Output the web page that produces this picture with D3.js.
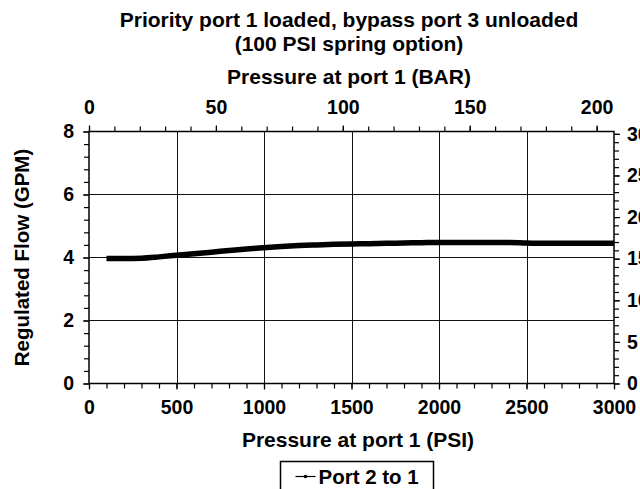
<!DOCTYPE html>
<html>
<head>
<meta charset="utf-8">
<script src="https://cdn.jsdelivr.net/npm/d3@7"></script>
<style>
  body { margin: 0; background: #fff; }
  svg text { font-family: "Liberation Sans", Arial, sans-serif; font-weight: bold; fill: #000; }
</style>
</head>
<body>
<div id="chart"></div>
<script>
// chart data
var psi = [100, 200, 300, 400, 500, 600, 700, 800, 900, 1000, 1100, 1200, 1300, 1400, 1500,
           1600, 1700, 1800, 1900, 2000, 2100, 2200, 2300, 2400, 2500, 2600, 2700, 2800, 2900, 3000];
var gpm = [3.97, 3.97, 3.98, 4.02, 4.07, 4.12, 4.17, 4.22, 4.27, 4.31, 4.35, 4.38, 4.40, 4.42, 4.43,
           4.44, 4.45, 4.46, 4.47, 4.48, 4.48, 4.48, 4.48, 4.48, 4.46, 4.45, 4.45, 4.45, 4.45, 4.45];
var psiTicks = [0, 500, 1000, 1500, 2000, 2500, 3000];
var barTicks = [0, 50, 100, 150, 200];
var gpmTicks = [0, 2, 4, 6, 8];
var lpmTicks = [0, 5, 10, 15, 20, 25, 30];
var seriesName = "Port 2 to 1";

var svgWidth = 640;
var svgHeight = 489;
var margin = {top: 131.5, right: 26, bottom: 105.5, left: 89};
var width = svgWidth - margin.left - margin.right;
var height = svgHeight - margin.top - margin.bottom;

var svg = d3.select("#chart").append("svg")
    .attr("width", svgWidth).attr("height", svgHeight);

var chart = svg.append("g")
    .attr("transform", `translate(${margin.left},${margin.top})`);

var xScale = d3.scaleLinear().domain([0, 3000]).range([0, width]);
var barScale = d3.scaleLinear().domain([0, 3000 / 14.5038]).range([0, width]);
var yScale = d3.scaleLinear().domain([0, 8]).range([height, 0]);
var lpmScale = d3.scaleLinear().domain([0, 8 * 3.78541]).range([height, 0]);

// grid lines
chart.append("g").selectAll("line")
    .data(psiTicks.slice(1, -1))
    .enter().append("line")
    .attr("x1", function (d) { return Math.round(xScale(d)) + 0.5; })
    .attr("x2", function (d) { return Math.round(xScale(d)) + 0.5; })
    .attr("y1", 0).attr("y2", height)
    .attr("stroke", "#111").attr("stroke-width", 1);
chart.append("g").selectAll("line")
    .data(gpmTicks.slice(1, -1))
    .enter().append("line")
    .attr("y1", function (d) { return yScale(d); })
    .attr("y2", function (d) { return yScale(d); })
    .attr("x1", 0).attr("x2", width)
    .attr("stroke", "#111").attr("stroke-width", 1);

// plot frame
chart.append("rect")
    .attr("width", width).attr("height", height)
    .attr("fill", "none").attr("stroke", "#000").attr("stroke-width", 1.5);

function styleAxis(g) {
    g.select(".domain").remove();
    g.selectAll("line").attr("stroke", "#000").attr("stroke-width", 1.2);
    g.selectAll("text").style("font-size", "19.5px");
}

// minor ticks
chart.append("g").attr("transform", `translate(0,${height})`)
    .call(d3.axisBottom(xScale).tickValues(d3.range(0, 3001, 100)).tickSize(5).tickFormat(""))
    .call(styleAxis);
chart.append("g")
    .call(d3.axisTop(barScale).tickValues(d3.range(0, 201, 10)).tickSize(5).tickFormat(""))
    .call(styleAxis);
chart.append("g")
    .call(d3.axisLeft(yScale).tickValues(d3.range(0, 8.01, 0.4)).tickSize(5).tickFormat(""))
    .call(styleAxis);
chart.append("g").attr("transform", `translate(${width},0)`)
    .call(d3.axisRight(lpmScale).tickValues(d3.range(0, 31, 1)).tickSize(5).tickFormat(""))
    .call(styleAxis);

// major ticks with labels
chart.append("g").attr("transform", `translate(0,${height})`)
    .call(d3.axisBottom(xScale).tickValues(psiTicks).tickSize(6).tickPadding(11).tickFormat(d3.format("d")))
    .call(styleAxis);
chart.append("g")
    .call(d3.axisTop(barScale).tickValues(barTicks).tickSize(6).tickPadding(12).tickFormat(d3.format("d")))
    .call(styleAxis);
chart.append("g")
    .call(d3.axisLeft(yScale).tickValues(gpmTicks).tickSize(6).tickPadding(9).tickFormat(d3.format("d")))
    .call(styleAxis);
chart.append("g").attr("transform", `translate(${width},0)`)
    .call(d3.axisRight(lpmScale).tickValues(lpmTicks).tickSize(6).tickPadding(7).tickFormat(d3.format("d")))
    .call(styleAxis);

// data line
var line = d3.line()
    .x(function (d, i) { return xScale(psi[i]); })
    .y(function (d) { return yScale(d); })
    .curve(d3.curveMonotoneX);
chart.append("path")
    .datum(gpm)
    .attr("d", line)
    .attr("fill", "none")
    .attr("stroke", "#000")
    .attr("stroke-width", 5.5);

// titles
svg.append("text").attr("x", 349).attr("y", 27)
    .attr("text-anchor", "middle").style("font-size", "21px")
    .text("Priority port 1 loaded, bypass port 3 unloaded");
svg.append("text").attr("x", 349).attr("y", 51)
    .attr("text-anchor", "middle").style("font-size", "21px")
    .text("(100 PSI spring option)");
svg.append("text").attr("x", 349).attr("y", 84)
    .attr("text-anchor", "middle").style("font-size", "21px")
    .text("Pressure at port 1 (BAR)");
svg.append("text").attr("x", 358).attr("y", 447)
    .attr("text-anchor", "middle").style("font-size", "21px")
    .text("Pressure at port 1 (PSI)");
svg.append("text")
    .attr("transform", `translate(22,${margin.top + height / 2})rotate(-90)`)
    .attr("dy", "0.35em")
    .attr("text-anchor", "middle").style("font-size", "20.5px")
    .text("Regulated Flow (GPM)");

// legend
var legend = svg.append("g").attr("transform", "translate(280.5,461.5)");
legend.append("rect")
    .attr("width", 153).attr("height", 40)
    .attr("fill", "#fff").attr("stroke", "#000").attr("stroke-width", 1.5);
legend.append("line")
    .attr("x1", 15).attr("x2", 35).attr("y1", 15).attr("y2", 15)
    .attr("stroke", "#000").attr("stroke-width", 1.2);
legend.append("circle")
    .attr("cx", 25).attr("cy", 15).attr("r", 1.8).attr("fill", "#000");
legend.append("text").attr("x", 38).attr("y", 22)
    .style("font-size", "20.5px")
    .text(seriesName);
</script>
</body>
</html>
